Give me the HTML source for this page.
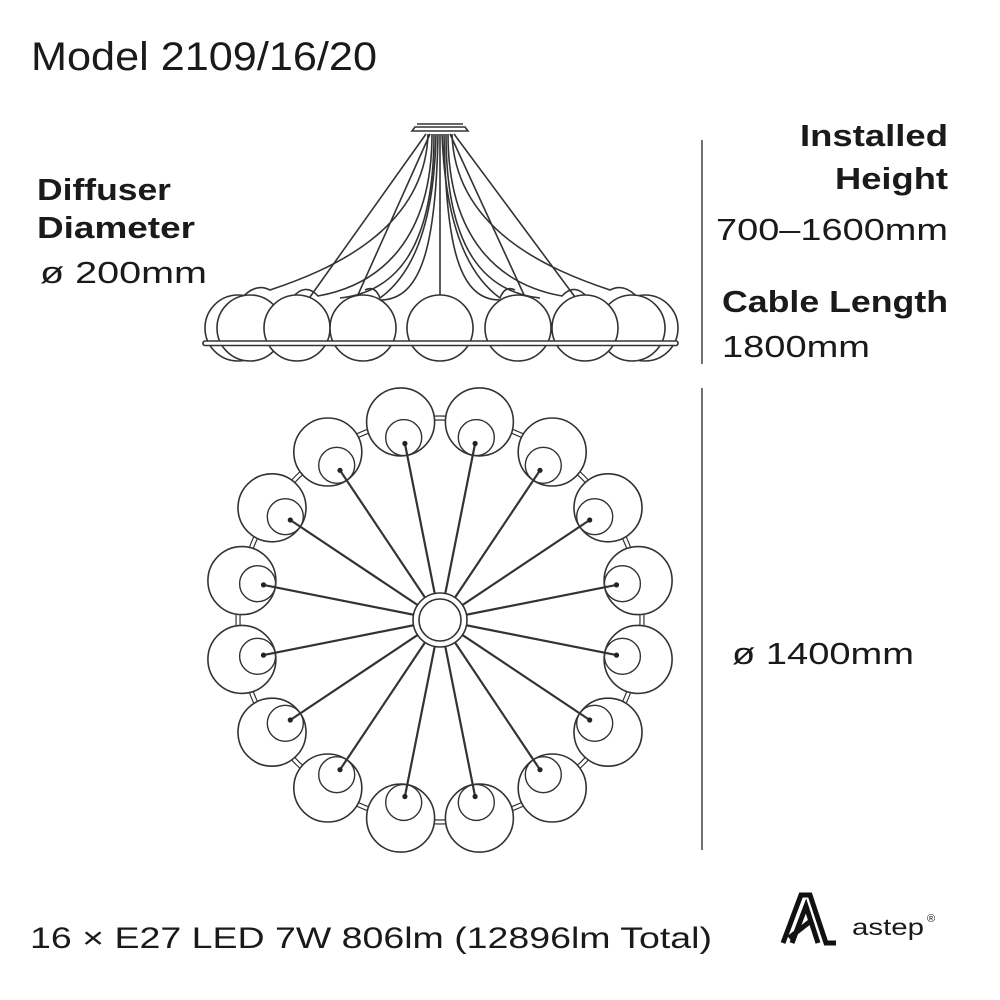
<!DOCTYPE html>
<html><head><meta charset="utf-8"><style>
html,body{margin:0;padding:0;background:#fff;}
svg{display:block}
text{font-family:"Liberation Sans",Arial,sans-serif;fill:#1a1a1a}
.b{font-weight:bold}
</style></head><body>
<svg width="1000" height="1000" viewBox="0 0 1000 1000" xmlns="http://www.w3.org/2000/svg">
<rect width="1000" height="1000" fill="#fff"/>
<text x="31" y="70" font-size="40" textLength="346" lengthAdjust="spacingAndGlyphs">Model 2109/16/20</text>
<text class="b" x="37" y="200" font-size="31" textLength="134" lengthAdjust="spacingAndGlyphs">Diffuser</text>
<text class="b" x="37" y="238" font-size="31" textLength="158" lengthAdjust="spacingAndGlyphs">Diameter</text>
<text x="40" y="283" font-size="31" textLength="167" lengthAdjust="spacingAndGlyphs">ø 200mm</text>
<text class="b" x="800" y="146" font-size="31" textLength="148" lengthAdjust="spacingAndGlyphs">Installed</text>
<text class="b" x="835" y="189" font-size="31" textLength="113" lengthAdjust="spacingAndGlyphs">Height</text>
<text x="716" y="240" font-size="31" textLength="232" lengthAdjust="spacingAndGlyphs">700–1600mm</text>
<text class="b" x="722" y="312" font-size="31" textLength="226" lengthAdjust="spacingAndGlyphs">Cable Length</text>
<text x="722" y="357" font-size="31" textLength="148" lengthAdjust="spacingAndGlyphs">1800mm</text>
<text x="732" y="664" font-size="31" textLength="182" lengthAdjust="spacingAndGlyphs">ø 1400mm</text>
<text x="30" y="948" font-size="30" textLength="682" lengthAdjust="spacingAndGlyphs">16 × E27 LED 7W  806lm (12896lm Total)</text>

<line x1="702" y1="140" x2="702" y2="364" stroke="#444" stroke-width="1.5"/>
<line x1="702" y1="388" x2="702" y2="850" stroke="#444" stroke-width="1.5"/>

<!-- Side view -->
<g fill="none" stroke="#333" stroke-width="1.6">
  <path d="M415,127 L465,127 L468,131 L412,131 Z" fill="#fff"/>
  <line x1="417" y1="124" x2="463" y2="124"/>
  <line x1="426" y1="134" x2="310" y2="297"/>
  <line x1="430" y1="134" x2="357" y2="297"/>
  <line x1="454" y1="134" x2="575" y2="297"/>
  <line x1="450" y1="134" x2="525" y2="297"/>
  <line x1="440" y1="134" x2="440" y2="295"/>
  <path d="M432,134 C432,240 380,285 318,296 Q305,282 292,298"/>
  <path d="M434,134 C434,250 395,292 340,298"/>
  <path d="M436,134 C434,240 405,280 380,298 Q375,285 365,290"/>
  <path d="M438,134 C436,250 420,300 380,300"/>
  <path d="M444,134 C446,250 460,300 500,300"/>
  <path d="M442,134 C446,240 475,280 500,298 Q505,285 515,290"/>
  <path d="M446,134 C446,250 485,292 540,298"/>
  <path d="M448,134 C448,240 500,285 562,296 Q575,282 588,298"/>
  <path d="M428,134 C425,230 330,270 270,290 Q255,282 240,300"/>
  <path d="M452,134 C455,230 550,270 610,290 Q625,282 640,300"/>
</g>
<g fill="#fff" stroke="#333" stroke-width="1.6">
  <circle cx="238" cy="328" r="33"/>
  <circle cx="645" cy="328" r="33"/>
  <circle cx="250" cy="328" r="33"/>
  <circle cx="632" cy="328" r="33"/>
  <circle cx="297" cy="328" r="33"/>
  <circle cx="585" cy="328" r="33"/>
  <circle cx="363" cy="328" r="33"/>
  <circle cx="518" cy="328" r="33"/>
  <circle cx="440" cy="328" r="33"/>
  <rect x="203" y="341" width="475" height="4.5" rx="2"/>
</g>

<!-- Top view -->
<g fill="none" stroke="#333">
  <circle cx="440" cy="620" r="200" stroke-width="1.2"/>
  <circle cx="440" cy="620" r="204" stroke-width="1.2"/>
</g>
<g fill="#fff" stroke="#333" stroke-width="1.6">
  <circle cx="479.4" cy="421.9" r="34"/><circle cx="552.2" cy="452" r="34"/>
  <circle cx="608" cy="507.8" r="34"/><circle cx="638.1" cy="580.6" r="34"/>
  <circle cx="638.1" cy="659.4" r="34"/><circle cx="608" cy="732.2" r="34"/>
  <circle cx="552.2" cy="788" r="34"/><circle cx="479.4" cy="818.1" r="34"/>
  <circle cx="400.6" cy="818.1" r="34"/><circle cx="327.8" cy="788" r="34"/>
  <circle cx="272" cy="732.2" r="34"/><circle cx="241.9" cy="659.4" r="34"/>
  <circle cx="241.9" cy="580.6" r="34"/><circle cx="272" cy="507.8" r="34"/>
  <circle cx="327.8" cy="452" r="34"/><circle cx="400.6" cy="421.9" r="34"/>
</g>
<g fill="none" stroke="#333" stroke-width="1.4">
  <circle cx="476.3" cy="437.6" r="18"/><circle cx="543.3" cy="465.3" r="18"/>
  <circle cx="594.7" cy="516.7" r="18"/><circle cx="622.4" cy="583.7" r="18"/>
  <circle cx="622.4" cy="656.3" r="18"/><circle cx="594.7" cy="723.3" r="18"/>
  <circle cx="543.3" cy="774.7" r="18"/><circle cx="476.3" cy="802.4" r="18"/>
  <circle cx="403.7" cy="802.4" r="18"/><circle cx="336.7" cy="774.7" r="18"/>
  <circle cx="285.3" cy="723.3" r="18"/><circle cx="257.6" cy="656.3" r="18"/>
  <circle cx="257.6" cy="583.7" r="18"/><circle cx="285.3" cy="516.7" r="18"/>
  <circle cx="336.7" cy="465.3" r="18"/><circle cx="403.7" cy="437.6" r="18"/>
</g>
<g stroke="#333" stroke-width="2.2">
  <line x1="440" y1="620" x2="475.1" y2="443.5"/>
  <line x1="440" y1="620" x2="540" y2="470.3"/>
  <line x1="440" y1="620" x2="589.7" y2="520"/>
  <line x1="440" y1="620" x2="616.5" y2="584.9"/>
  <line x1="440" y1="620" x2="616.5" y2="655.1"/>
  <line x1="440" y1="620" x2="589.7" y2="720"/>
  <line x1="440" y1="620" x2="540" y2="769.7"/>
  <line x1="440" y1="620" x2="475.1" y2="796.5"/>
  <line x1="440" y1="620" x2="404.9" y2="796.5"/>
  <line x1="440" y1="620" x2="340" y2="769.7"/>
  <line x1="440" y1="620" x2="290.3" y2="720"/>
  <line x1="440" y1="620" x2="263.5" y2="655.1"/>
  <line x1="440" y1="620" x2="263.5" y2="584.9"/>
  <line x1="440" y1="620" x2="290.3" y2="520"/>
  <line x1="440" y1="620" x2="340" y2="470.3"/>
  <line x1="440" y1="620" x2="404.9" y2="443.5"/>
</g>
<g fill="#222">
  <circle cx="475.1" cy="443.5" r="2.6"/><circle cx="540" cy="470.3" r="2.6"/>
  <circle cx="589.7" cy="520" r="2.6"/><circle cx="616.5" cy="584.9" r="2.6"/>
  <circle cx="616.5" cy="655.1" r="2.6"/><circle cx="589.7" cy="720" r="2.6"/>
  <circle cx="540" cy="769.7" r="2.6"/><circle cx="475.1" cy="796.5" r="2.6"/>
  <circle cx="404.9" cy="796.5" r="2.6"/><circle cx="340" cy="769.7" r="2.6"/>
  <circle cx="290.3" cy="720" r="2.6"/><circle cx="263.5" cy="655.1" r="2.6"/>
  <circle cx="263.5" cy="584.9" r="2.6"/><circle cx="290.3" cy="520" r="2.6"/>
  <circle cx="340" cy="470.3" r="2.6"/><circle cx="404.9" cy="443.5" r="2.6"/>
</g>
<circle cx="440" cy="620" r="27" fill="#fff" stroke="#333" stroke-width="1.6"/>
<circle cx="440" cy="620" r="21" fill="#fff" stroke="#333" stroke-width="1.6"/>

<!-- Logo -->
<g fill="none" stroke="#111" stroke-width="5" stroke-linejoin="miter">
  <path d="M783,943 L801,895 L810,895 L826,943 L836,943"/>
  <path d="M792,943 L806,906 L818,943"/>
  <path d="M789,938 L812,920"/>
</g>
<text x="852" y="935" font-size="23" textLength="72" lengthAdjust="spacingAndGlyphs">astep</text>
<text x="927" y="922" font-size="11">®</text>
</svg>
</body></html>
